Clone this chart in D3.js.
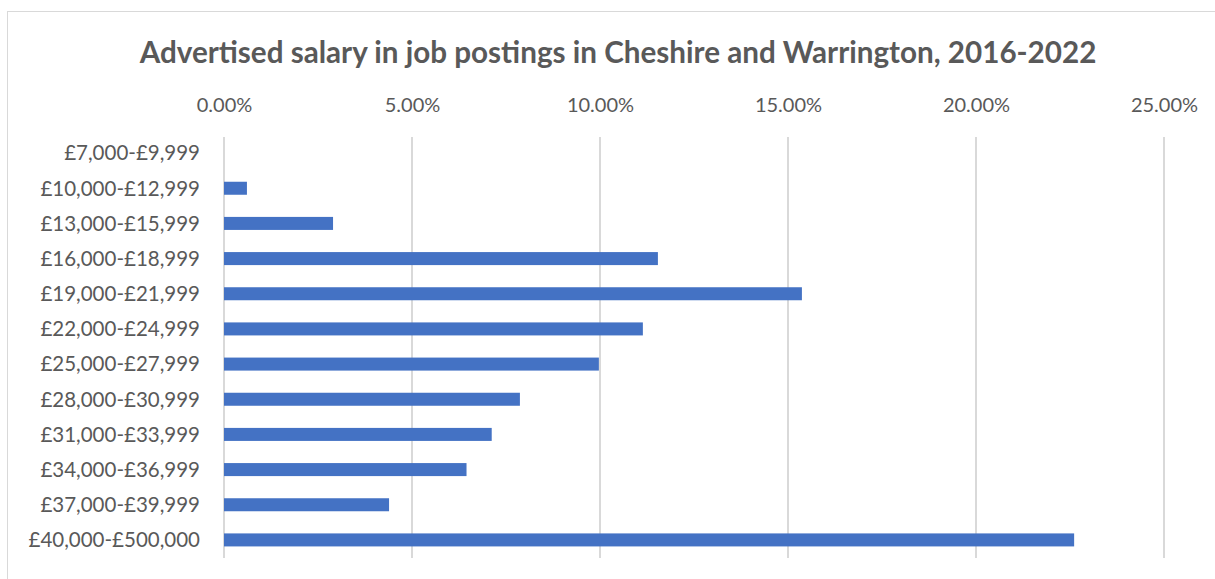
<!DOCTYPE html>
<html><head><meta charset="utf-8">
<script src="https://cdn.jsdelivr.net/npm/d3@7"></script>
<style>body{margin:0;background:#fff}svg{display:block}</style>
</head><body>
<script>
const categories = ["£7,000-£9,999","£10,000-£12,999","£13,000-£15,999","£16,000-£18,999","£19,000-£21,999","£22,000-£24,999","£25,000-£27,999","£28,000-£30,999","£31,000-£33,999","£34,000-£36,999","£37,000-£39,999","£40,000-£500,000"];
const shares = [0.0, 0.61, 2.90, 11.54, 15.37, 11.14, 9.97, 7.87, 7.12, 6.45, 4.39, 22.61];
const ticks = [0, 5, 10, 15, 20, 25];
const title = "Advertised salary in job postings in Cheshire and Warrington, 2016-2022";

const W = 1215, H = 579;
const svg = d3.select("body").append("svg").attr("width", W).attr("height", H);
svg.append("rect").attr("x", 7.5).attr("y", 11.5).attr("width", W + 10).attr("height", H).attr("fill", "#fff").attr("stroke", "#d9d9d9");

const x = d3.scaleLinear().domain([0, 25]).range([224, 1164]);
const y = d3.scaleBand().domain(categories).range([135.5, 557.5]).paddingInner(0.63).paddingOuter(0.315);
const font = "Lato, 'Open Sans', sans-serif";
const txt = "#595959";

function fitText(sel, target) {
  const fs = +sel.attr("font-size");
  const len = sel.node().getComputedTextLength();
  sel.attr("font-size", fs * target / len);
}

// gridlines
svg.append("g").selectAll("line").data(ticks).join("line")
  .attr("x1", d => x(d)).attr("x2", d => x(d)).attr("y1", 137).attr("y2", 558)
  .attr("stroke", "#d9d9d9").attr("stroke-width", 2);

// top axis labels
const ax = svg.append("g").attr("transform", "translate(0,112)")
  .call(d3.axisTop(x).tickValues(ticks).tickFormat(d => d3.format(".2f")(d) + "%").tickSize(0).tickPadding(0));
ax.select(".domain").remove();
ax.selectAll("text").attr("font-family", font).attr("font-size", 20).attr("fill", txt).attr("dy", 0);

// bars
svg.append("g").selectAll("rect").data(categories).join("rect")
  .attr("x", x(0)).attr("y", d => y(d)).attr("height", y.bandwidth())
  .attr("width", (d, i) => x(shares[i]) - x(0)).attr("fill", "#4472C4");

// category labels
svg.append("g").selectAll("text").data(categories).join("text")
  .attr("x", 200).attr("y", d => y(d) + y.bandwidth() / 2).attr("dy", "0.36em")
  .attr("text-anchor", "end").attr("font-family", font).attr("font-size", 20.5).attr("fill", txt).text(d => d);

// title
const t = svg.append("text").attr("x", 618).attr("y", 63).attr("text-anchor", "middle")
  .attr("font-family", font).attr("font-weight", "bold").attr("font-size", 26).attr("fill", txt).text(title);
fitText(t, 957);
</script>
</body></html>
